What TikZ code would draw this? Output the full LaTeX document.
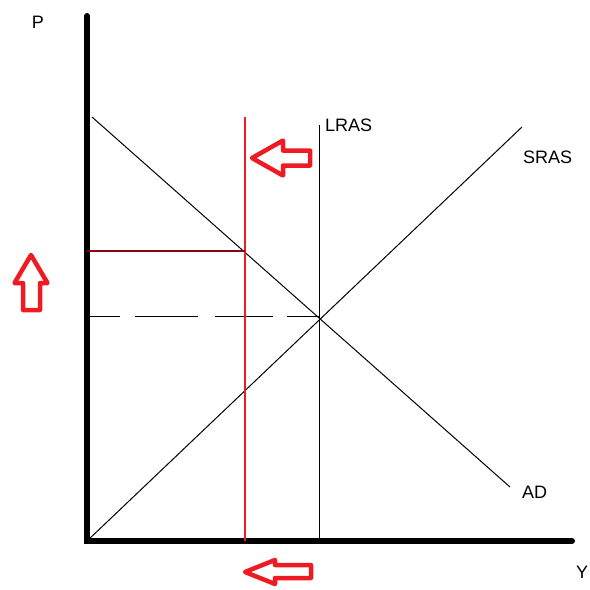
\documentclass[tikz,border=0pt]{standalone}
\usepackage{fontspec}
\setmainfont{Liberation Sans}
\definecolor{paintred}{RGB}{237,28,36}
\definecolor{paintdarkred}{RGB}{136,0,21}

\begin{document}
\begin{tikzpicture}[
    x=1pt, y=-1pt,
    every node/.style={font=\fontsize{18}{20}\selectfont, inner sep=0pt},
    axis/.style={line width=6pt, line cap=round},
    curve/.style={line width=1pt},
    shiftline/.style={draw=paintred, line width=1.5pt},
    levelline/.style={draw=paintdarkred, line width=1.2pt},
    hollowarrow/.style={draw=paintred, line width=4.5pt, line join=round}
]
    \useasboundingbox (0,0) rectangle (590,590);

    % Axes
    \coordinate (origin) at (87,541);
    \draw[axis] (87,16) -- (origin) -- (572,541);
    \node (plabel) at (38,22) {P};
    \node[anchor=west] (ylabel) at (576,572) {Y};

    % Curves
    \draw[curve] (92,117) -- (510,487) coordinate (adend);
    \draw[curve] (origin) -- (522,127) coordinate (srasend);
    \draw[curve] (319,125) coordinate (lrastop) -- (319,541);
    \coordinate (eq) at (319,316);
    \node[anchor=west] (lras) at (325,125) {LRAS};
    \node[anchor=west] (sras) at (523,157) {SRAS};
    \node[anchor=west] (ad) at (522,492) {AD};

    % Equilibrium price level, dashed
    \foreach \xa/\xb in {87/120, 135/198, 215/273, 287/319}
        \draw[curve] (\xa,316) -- (\xb,316);

    % Shifted LRAS
    \draw[shiftline] (245,117) -- (245,541);
    \draw[levelline] (87,251) -- (245,251);

    % Red arrows
    \draw[hollowarrow] (252,158) -- ++(31,-17.5) -- ++(0,10) -- ++(27,0) -- ++(0,15)
        -- ++(-27,0) -- ++(0,10) -- cycle;
    \draw[hollowarrow] (31,255) -- ++(16.5,28) -- ++(-7.5,0) -- ++(0,27) -- ++(-17,0)
        -- ++(0,-27) -- ++(-8.5,0) -- cycle;
    \draw[hollowarrow] (245,572) -- ++(30,-12) -- ++(0,5) -- ++(36,0) -- ++(0,13)
        -- ++(-36,0) -- ++(0,6) -- cycle;
\end{tikzpicture}
\end{document}
